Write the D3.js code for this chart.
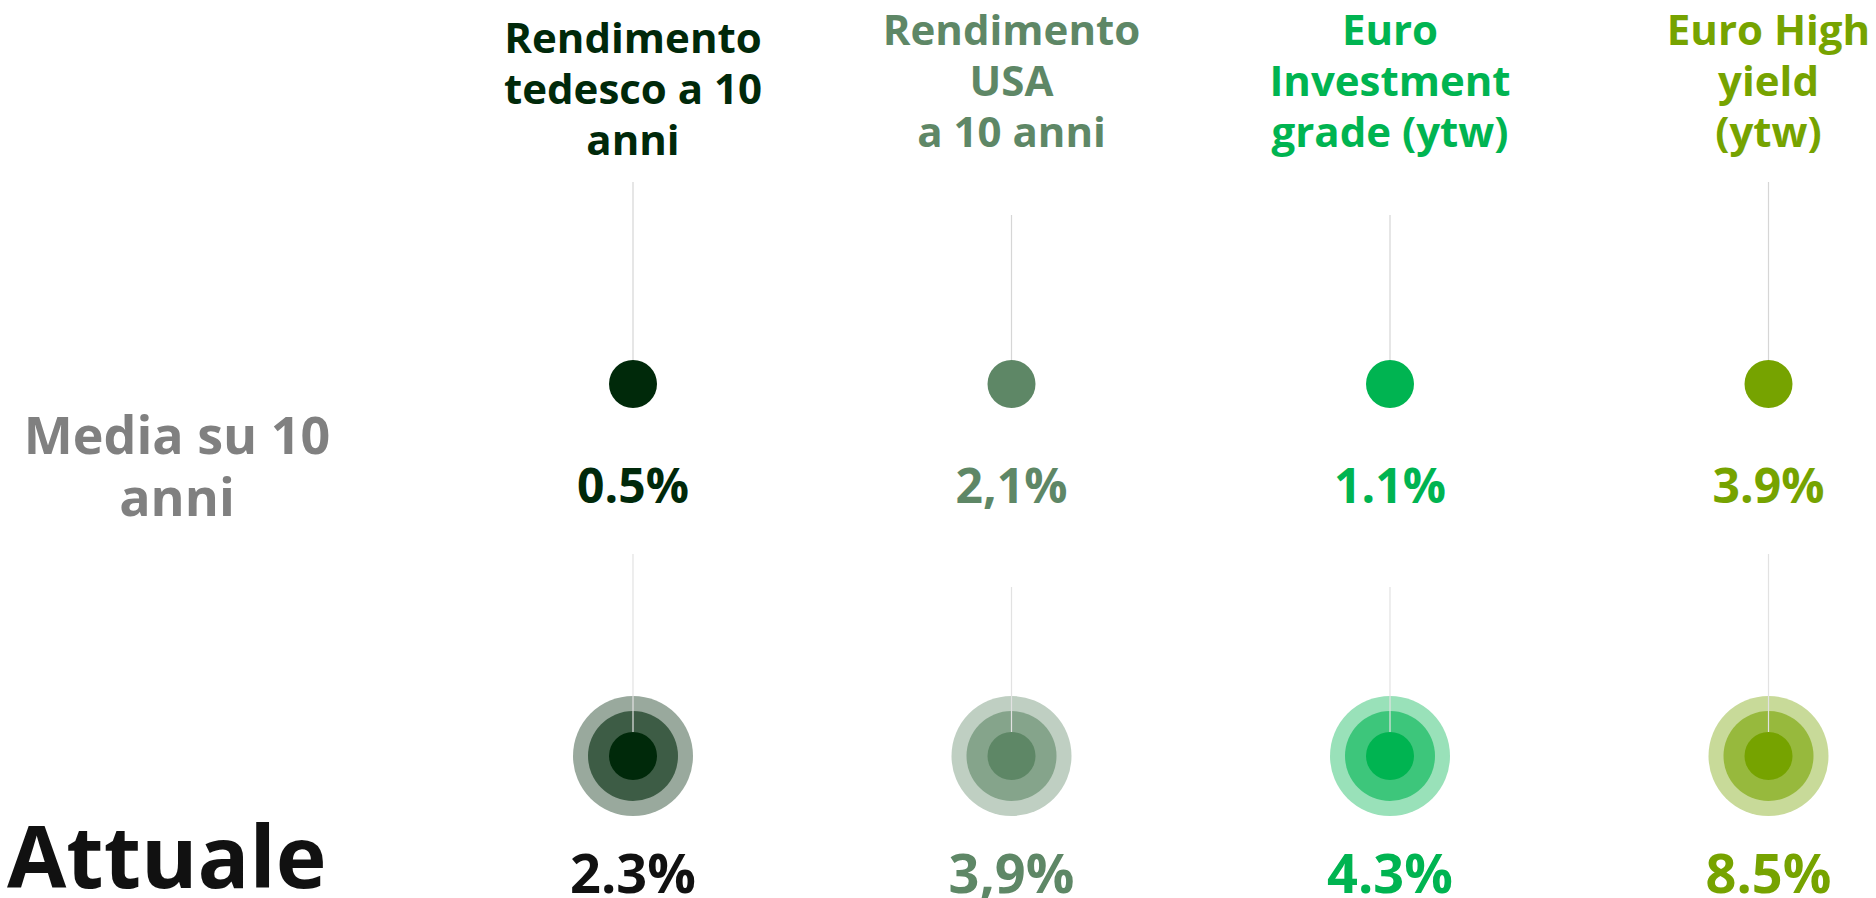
<!DOCTYPE html>
<html>
<head>
<meta charset="utf-8">
<script src="https://cdn.jsdelivr.net/npm/d3@7"></script>
<style>
  body { margin: 0; background: #fff; }
  text { font-family: "Open Sans", sans-serif; font-weight: 700; }
</style>
</head>
<body>
<div id="chart"></div>
<script>
// data
var categories = ["de10", "us10", "euroIG", "euroHY"];
var headings = [
  ["Rendimento", "tedesco a 10", "anni"],
  ["Rendimento", "USA", "a 10 anni"],
  ["Euro", "Investment", "grade (ytw)"],
  ["Euro High", "yield", "(ytw)"]
];
var colors = ["#00290a", "#5e8766", "#00b451", "#76a300"];
var mediaLabels = ["0.5%", "2,1%", "1.1%", "3.9%"];
var attualeLabels = ["2.3%", "3,9%", "4.3%", "8.5%"];
var rows = ["media", "attuale"];
var rowLabels = [["Media su 10", "anni"], ["Attuale"]];

var width = 1876,
  height = 898;

var svg = d3
  .select("#chart")
  .append("svg")
  .attr("width", width)
  .attr("height", height);

// scales
var x = d3.scalePoint().domain(categories).range([633, 1768.5]);
var y = d3.scalePoint().domain(rows).range([384, 756]);

// tint of a colour towards white
function tint(c, t) { return d3.interpolateRgb("#fff", c)(t); }

var cols = categories.map(function (c, i) {
  return {
    key: c,
    heading: headings[i],
    color: colors[i],
    media: mediaLabels[i],
    attuale: attualeLabels[i],
    // first and last columns have a longer stem
    shift: i === 0 || i === categories.length - 1 ? 0 : 33
  };
});

var g = svg
  .selectAll(".col")
  .data(cols)
  .enter()
  .append("g")
  .attr("class", "col")
  .attr("transform", function (d) { return "translate(" + x(d.key) + ",0)"; });

// headings
g.append("text")
  .attr("text-anchor", "middle")
  .attr("font-size", 42)
  .attr("fill", function (d) { return d.color; })
  .attr("y", function (d, i) { return i === 0 ? 53 : 45; })
  .selectAll("tspan")
  .data(function (d) { return d.heading; })
  .enter()
  .append("tspan")
  .attr("x", 0)
  .attr("dy", function (d, i) { return i === 0 ? 0 : 51; })
  .text(function (d) { return d; });

// stems
g.append("line")
  .attr("x1", 0).attr("x2", 0)
  .attr("y1", function (d) { return 182 + d.shift; })
  .attr("y2", y("media"))
  .attr("stroke", "#d6d6d6")
  .attr("stroke-width", 1.2);

// media circles
g.append("circle")
  .attr("cy", y("media"))
  .attr("r", 24)
  .attr("fill", function (d) { return d.color; });

g.append("text")
  .attr("text-anchor", "middle")
  .attr("y", 503)
  .attr("font-size", 48)
  .attr("fill", function (d) { return d.color; })
  .text(function (d) { return d.media; });

// attuale rings
g.append("circle")
  .attr("cy", y("attuale"))
  .attr("r", 60)
  .attr("fill", function (d) { return tint(d.color, 0.4); });

g.append("circle")
  .attr("cy", y("attuale"))
  .attr("r", 45)
  .attr("fill", function (d) { return tint(d.color, 0.76); });

g.append("line")
  .attr("x1", 0).attr("x2", 0)
  .attr("y1", function (d) { return 554 + d.shift; })
  .attr("y2", y("attuale"))
  .attr("stroke", "#e2e2e2")
  .attr("stroke-width", 1.2);

g.append("circle")
  .attr("cy", y("attuale"))
  .attr("r", 24)
  .attr("fill", function (d) { return d.color; });

g.append("text")
  .attr("text-anchor", "middle")
  .attr("y", 893)
  .attr("font-size", 54)
  .attr("fill", function (d, i) { return i === 0 ? "#111" : d.color; })
  .text(function (d) { return d.attuale; });

// row labels
svg.append("text")
  .attr("text-anchor", "middle")
  .attr("font-size", 52)
  .attr("fill", "#808080")
  .attr("y", 454)
  .selectAll("tspan")
  .data(rowLabels[0])
  .enter()
  .append("tspan")
  .attr("x", 177)
  .attr("dy", function (d, i) { return i === 0 ? 0 : 62; })
  .text(function (d) { return d; });

svg.append("text")
  .attr("x", 7)
  .attr("y", 888)
  .attr("font-size", 86)
  .attr("fill", "#111")
  .text(rowLabels[1][0]);
</script>
</body>
</html>
